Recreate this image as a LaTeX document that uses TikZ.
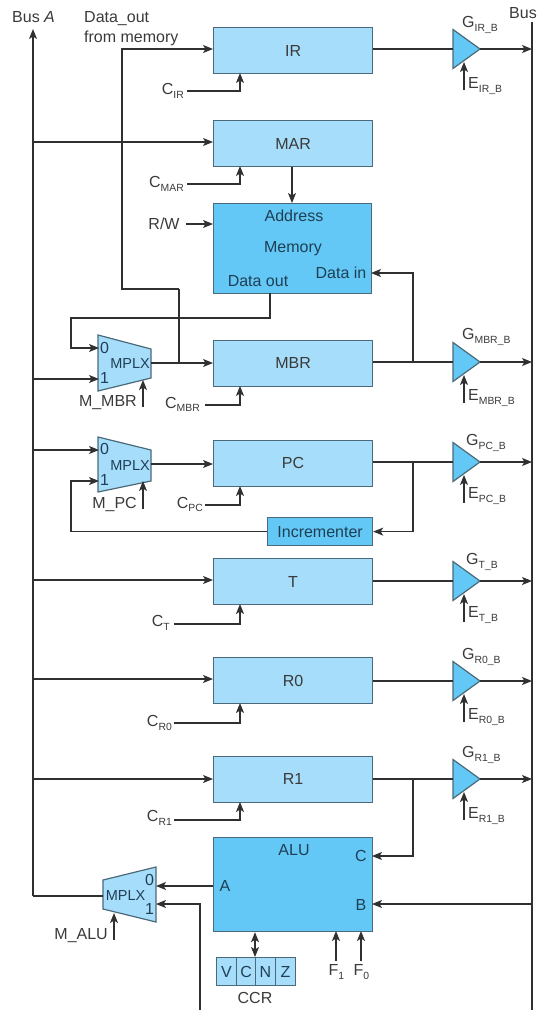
\documentclass[tikz,border=0pt]{standalone}
\usepackage{fontspec}
\setmainfont{Liberation Sans}
\usetikzlibrary{arrows.meta}
\definecolor{lightb}{HTML}{A6DDFA}
\definecolor{darkb}{HTML}{63C8F5}
\definecolor{edgec}{HTML}{4A6A7A}
\definecolor{linec}{HTML}{303030}
\definecolor{txtc}{HTML}{3A3A3A}
\definecolor{intxt}{HTML}{1F3F55}
\newcommand{\lsub}[2]{#1\raisebox{-3.4pt}{\fontsize{10.4}{10.4}\selectfont #2}}
\tikzset{
  x=1pt,y=-1pt,
  wire/.style={draw=linec,line width=1.3pt},
  arr/.style={wire,-{Stealth[length=10pt,width=8pt,inset=2.5pt]}},
  darr/.style={wire,{Stealth[length=10pt,width=8pt,inset=2.5pt]}-{Stealth[length=10pt,width=8pt,inset=2.5pt]}},
  reg/.style={draw=edgec,line width=1.2pt,fill=lightb,anchor=north west,inner sep=0pt,minimum width=159pt,minimum height=46pt,text=txtc,font=\fontsize{16}{16}\selectfont},
  block/.style={reg,fill=darkb,text=intxt},
  shapefill/.style={draw=edgec,line width=1.2pt,fill=darkb},
  muxfill/.style={draw=edgec,line width=1.2pt,fill=lightb},
  lab/.style={inner sep=0pt,text=txtc,font=\fontsize{16}{16}\selectfont},
  inlab/.style={inner sep=0pt,text=intxt,font=\fontsize{16}{16}\selectfont},
  muxlab/.style={inner sep=0pt,text=intxt,font=\fontsize{14.5}{14.5}\selectfont},
  muxdig/.style={inner sep=0pt,text=intxt,font=\fontsize{16}{16}\selectfont},
  ccrbox/.style={draw=edgec,line width=1pt,fill=lightb,anchor=north west,inner sep=0pt,minimum width=19.7pt,minimum height=28pt,text=intxt,font=\fontsize{16}{16}\selectfont},
}
% tristate buffer: name, y, G label x, G label dy, E label dy, subscript
\newcommand{\tristate}[6]{%
  \coordinate (#1in) at (453,#2);
  \coordinate (#1out) at (480,#2);
  \coordinate (#1ctl) at (464,#2+13);
  \coordinate (#1ctls) at (464,#2+41);
  \path[shapefill] (453,#2-19.5) -- (480,#2) -- (453,#2+19.5) -- cycle;
  \node[lab,anchor=west] (#1g) at (#3,#2+#4) {\lsub{G}{#6}};
  \node[lab,anchor=west] (#1e) at (468,#2+#5) {\lsub{E}{#6}};
  \draw[arr] (#1ctls) -- (#1ctl);
  \draw[arr] (#1out) -- (#1out -| busB);
}
\begin{document}
\begin{tikzpicture}
\useasboundingbox (0,0) rectangle (537,1010);
\coordinate (busA) at (33,29);
\coordinate (busAend) at (33,896);
\coordinate (busB) at (532,22);
\coordinate (busBend) at (532,1010);
% buses
\draw[arr] (busAend) -- (busA);
\draw[wire] (busB) -- (busBend);
\node[lab,anchor=west] (busAl) at (12,17) {Bus \textit{A}};
\node[lab,anchor=west] (busBl) at (509,13) {Bus};
\node[lab,anchor=north west,align=left,font=\fontsize{16}{20}\selectfont] (dout) at (84,11) {Data\_out\\from memory};
% registers
\node[reg] (IR) at (213,27) {IR};
\node[reg] (MAR) at (213,120) {MAR};
\node[block,minimum height=90pt,minimum width=158pt] (MEM) at (213,203) {};
\node[reg] (MBR) at (213,339.5) {MBR};
\node[reg] (PC) at (213,439.5) {PC};
\node[block,minimum width=105pt,minimum height=28pt] (INC) at (267,517) {Incrementer};
\node[reg] (T) at (213,558) {T};
\node[reg] (R0) at (213,657) {R0};
\node[reg] (R1) at (213,755.5) {R1};
\node[block,minimum height=94pt] (ALU) at (213,837) {};
% memory labels
\node[inlab] (mAddr) at (294,216) {Address};
\node[inlab] (mMem) at (293,249) {Memory};
\node[inlab] (mOut) at (258,281) {Data out};
\node[inlab] (mIn) at (341,273) {Data in};
% ALU labels
\node[inlab] (aName) at (294,850) {ALU};
\node[inlab] (aC) at (361,856) {C};
\node[inlab] (aA) at (225,886) {A};
\node[inlab] (aB) at (361,905) {B};
% multiplexers
\path[muxfill] (98,335) -- (151,349) -- (151,378) -- (98,391) -- cycle;
\path[muxfill] (98,437) -- (151,450) -- (151,481) -- (98,492) -- cycle;
\path[muxfill] (103,880) -- (156,867) -- (156,922) -- (103,909) -- cycle;
\coordinate (m1out) at (151,363);
\coordinate (m1a) at (99,348);
\coordinate (m1b) at (99,379);
\coordinate (m1ctl) at (143,380);
\coordinate (m2out) at (151,464);
\coordinate (m2a) at (99,450);
\coordinate (m2b) at (99,481);
\coordinate (m2ctl) at (143,481);
\coordinate (m3out) at (103,896);
\coordinate (m3a) at (156,886);
\coordinate (m3b) at (156,904);
\coordinate (m3ctl) at (114,913);
\node[muxlab] (m1n) at (130,363.5) {MPLX};
\node[muxdig] (m1z) at (104.5,348) {0};
\node[muxdig] (m1o) at (104.5,378) {1};
\node[muxlab] (m2n) at (130,465.5) {MPLX};
\node[muxdig] (m2z) at (104.5,449) {0};
\node[muxdig] (m2o) at (104.5,480) {1};
\node[muxlab] (m3n) at (125.5,895.5) {MPLX};
\node[muxdig] (m3z) at (149.5,880) {0};
\node[muxdig] (m3o) at (149.5,909) {1};
\node[lab,anchor=east] (mm1) at (137,403) {M\_MBR};
\node[lab,anchor=east] (mm2) at (137,504) {M\_PC};
\node[lab,anchor=east] (mm3) at (108,936) {M\_ALU};
\coordinate (mm1s) at (143,407);
\coordinate (mm2s) at (143,509);
\coordinate (mm3s) at (114,940);
\draw[arr] (mm1s) -- (m1ctl);
\draw[arr] (mm2s) -- (m2ctl);
\draw[arr] (mm3s) -- (m3ctl);
% tristates
\tristate{tir}{49}{462}{-24}{37}{IR\_B}
\tristate{tmbr}{362}{462}{-25}{36}{MBR\_B}
\tristate{tpc}{462}{466}{-19}{34}{PC\_B}
\tristate{tt}{581}{466}{-19}{34}{T\_B}
\tristate{tra}{681}{462}{-24}{36}{R0\_B}
\tristate{trb}{779}{462}{-24}{37}{R1\_B}
\draw[wire] (IR.east |- tirin) -- (tirin);
\draw[wire] (MBR.east |- tmbrin) -- (tmbrin);
\draw[wire] (PC.east |- tpcin) -- (tpcin);
\draw[wire] (T.east |- ttin) -- (ttin);
\draw[wire] (R0.east |- train) -- (train);
\draw[wire] (R1.east |- trbin) -- (trbin);
% clock labels
\node[lab,anchor=east] (cir) at (184,91) {\lsub{C}{IR}};
\node[lab,anchor=east] (cmar) at (184,184) {\lsub{C}{MAR}};
\node[lab,anchor=east] (cmbr) at (200,404.5) {\lsub{C}{MBR}};
\node[lab,anchor=east] (cpc) at (203,504.5) {\lsub{C}{PC}};
\node[lab,anchor=east] (ct) at (170,623) {\lsub{C}{T}};
\node[lab,anchor=east] (cra) at (172,723) {\lsub{C}{R0}};
\node[lab,anchor=east] (crb) at (172,818) {\lsub{C}{R1}};
\coordinate (irc) at (240,73);
\coordinate (marc) at (240,166);
\coordinate (mbrc) at (240,386);
\coordinate (pcc) at (240,486);
\coordinate (tc) at (240,604);
\coordinate (rac) at (240,703);
\coordinate (rbc) at (240,802);
\draw[arr] (187,91) -| (irc);
\draw[arr] (187,184) -| (marc);
\draw[arr] (205,405) -| (mbrc);
\draw[arr] (205,505) -| (pcc);
\draw[arr] (174,624) -| (tc);
\draw[arr] (174,723) -| (rac);
\draw[arr] (174,820) -| (rbc);
% bus A to registers
\draw[arr] (busA |- 0,142) -- (MAR.west |- 0,142);
\draw[arr] (busA |- m1b) -- (m1b);
\draw[arr] (busA |- m2a) -- (m2a);
\draw[arr] (busA |- 0,580) -- (T.west |- 0,580);
\draw[arr] (busA |- 0,679) -- (R0.west |- 0,679);
\draw[arr] (busA |- 0,779) -- (R1.west |- 0,779);
\draw[wire] (m3out) -- (busAend);
% memory
\node[lab] (rw) at (164,224) {R/W};
\draw[arr] (186,224) -- (213,224);
\draw[arr] (MAR.south -| 292,0) -- (MEM.north -| 292,0);
\coordinate (j1) at (179,363);
\coordinate (j2) at (413,362);
\draw[arr] (j1 |- 0,289) -- (122,289) |- (IR.west |- 0,49);
\draw[wire] (j1 |- 0,289) -- (j1);
\draw[arr] (j2) |- (371,273);
\draw[arr] (m1out) -- (MBR.west |- m1out);
\draw[arr] (270,293) |- (71,318) |- (m1a);
\draw[arr] (m2out) -- (PC.west |- m2out);
\coordinate (j3) at (413,462);
\draw[arr] (j3) |- (INC.east);
\draw[arr] (INC.west) -| (71,481) -- (m2b);
% ALU
\coordinate (j4) at (413,779);
\draw[arr] (j4) |- (372,856);
\draw[arr] (busB |- 0,904) -- (372,904);
\draw[arr] (ALU.west |- 0,886) -- (m3a);
\draw[arr] (200,1010) |- (m3b);
% CCR
\node[ccrbox] (ccrv) at (216,957) {V};
\node[ccrbox] (ccrc) at (235.7,957) {C};
\node[ccrbox] (ccrn) at (255,957) {N};
\node[ccrbox] (ccrz) at (275.1,957) {Z};
\node[lab] (ccr) at (255,998) {CCR};
\draw[darr] (ccrn.north west) -- (ALU.south -| ccrn.north west);
\node[lab] (f1) at (336.5,972) {\lsub{F}{1}};
\node[lab] (f0) at (361.5,972) {\lsub{F}{0}};
\draw[arr] (336,961) -- (336,931);
\draw[arr] (361,961) -- (361,931);
\end{tikzpicture}
\end{document}
